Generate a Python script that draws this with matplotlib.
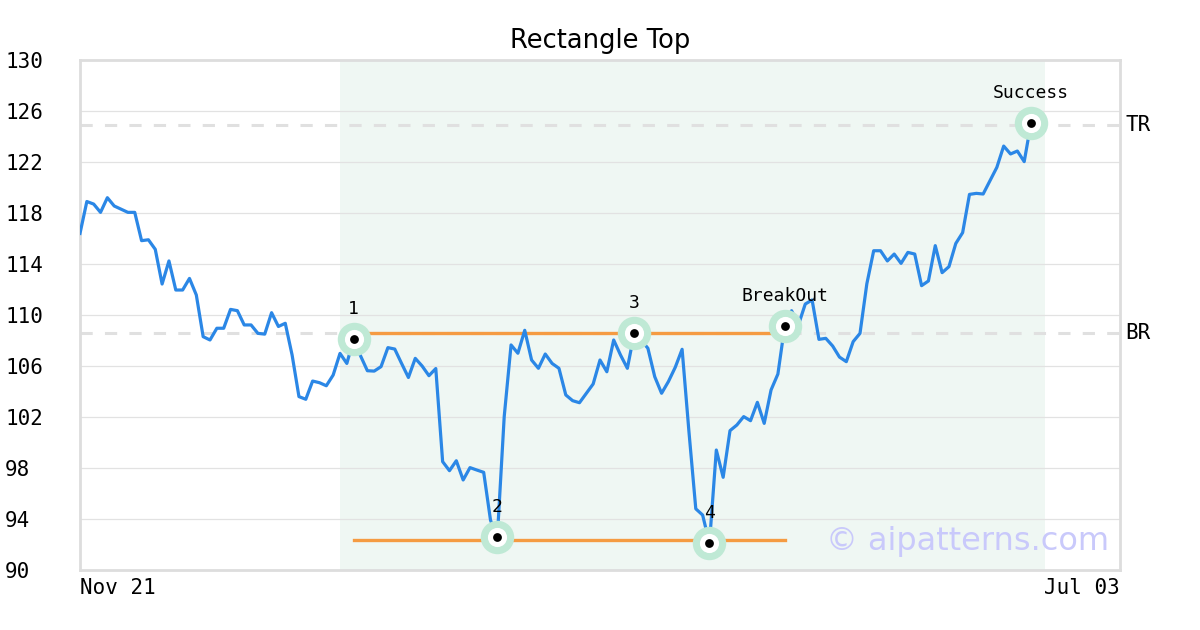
import numpy as np
import matplotlib
matplotlib.use("Agg")
import matplotlib.pyplot as plt

# price series (one value per trading day)
prices = [116.4, 118.9, 118.7, 118.05, 119.2, 118.55, 118.3, 118.05, 118.05, 115.83,
          115.9, 115.15, 112.43, 114.24, 111.96, 111.96, 112.87, 111.57, 108.3, 108.04,
          108.96, 108.96, 110.44, 110.34, 109.22, 109.22, 108.56, 108.5, 110.18, 109.1,
          109.35, 106.86, 103.6, 103.39, 104.82, 104.69, 104.45, 105.29, 106.99, 106.2,
          108.12, 106.8, 105.63, 105.6, 105.95, 107.44, 107.33, 106.2, 105.1, 106.6,
          106.0, 105.24, 105.8, 98.5, 97.79, 98.57, 97.06, 98.03, 97.84, 97.66,
          93.9, 92.61, 102.03, 107.65, 107.0, 108.8, 106.47, 105.82, 106.94, 106.2,
          105.82, 103.73, 103.28, 103.12, 103.86, 104.59, 106.47, 105.55, 108.04, 106.86,
          105.82, 108.56, 108.04, 107.39, 105.16, 103.86, 104.78, 105.9, 107.31, 100.85,
          94.8, 94.31, 92.09, 99.41, 97.27, 100.93, 101.37, 102.03, 101.71, 103.15,
          101.5, 104.12, 105.37, 109.14, 110.34, 109.22, 110.86, 111.18, 108.09, 108.17,
          107.57, 106.7, 106.34, 107.91, 108.56, 112.45, 115.04, 115.04, 114.24, 114.78,
          114.05, 114.91, 114.78, 112.3, 112.67, 115.44, 113.32, 113.79, 115.61, 116.46,
          119.46, 119.54, 119.49, 120.53, 121.58, 123.25, 122.63, 122.86, 122.03, 125.08,
          125.03, 125.03]

# pattern points
point_idx = [40, 61, 81, 92, 103, 139]
point_labels = ["1", "2", "3", "4", "BreakOut", "Success"]

top_level = 108.6      # BR
bottom_level = 92.35
target_level = 124.9   # TR
rect_start, rect_end = 40, 103
shade_start, shade_end = 38, 141

x_ticks = [0, 152]
x_ticklabels = ["Nov 21", "Jul 03"]
y_ticks = list(range(90, 131, 4))

mono = "DejaVu Sans Mono"
x = np.arange(len(prices))
y = np.array(prices)

fig = plt.figure(figsize=(12, 6.3), dpi=100)
ax = fig.add_axes([80 / 1200, 1 - 570 / 630, 1040 / 1200, 510 / 630])

ax.axvspan(shade_start, shade_end, color="#eff7f3", zorder=0, lw=0)

for v in y_ticks:
    ax.axhline(v, color="#e2e2e2", lw=0.9, zorder=1)

ax.axhline(top_level, color="#e0e0e0", lw=2.2, ls=(0, (4, 4)), zorder=1)
ax.axhline(target_level, color="#e0e0e0", lw=2.2, ls=(0, (4, 4)), zorder=1)

ax.plot([rect_start, rect_end], [top_level, top_level], color="#f59b42", lw=2.4, zorder=2)
ax.plot([rect_start, rect_end], [bottom_level, bottom_level], color="#f59b42", lw=2.4, zorder=2)

ax.plot(x, y, color="#2b87e6", lw=2.3, zorder=3)

px = x[point_idx]
py = y[point_idx]
ax.scatter(px, py, s=580, color="#bfe9d5", zorder=4, lw=0)
ax.scatter(px, py, s=190, color="white", zorder=5, lw=0)
ax.scatter(px, py, s=40, color="black", zorder=6, lw=0)
for xi, yi, lab in zip(px, py, point_labels):
    ax.annotate(lab, (xi, yi), xytext=(0, 30), textcoords="offset pixels",
                ha="center", va="center", fontsize=13, family=mono, zorder=7)

ax.text(1.005, target_level, "TR", transform=ax.get_yaxis_transform(),
        ha="left", va="center", fontsize=15, family=mono)
ax.text(1.005, top_level, "BR", transform=ax.get_yaxis_transform(),
        ha="left", va="center", fontsize=15, family=mono)

ax.text(0.99, 0.055, "\u00a9 aipatterns.com", transform=ax.transAxes,
        ha="right", va="center", fontsize=23, color="#c9c9fb", zorder=8)

ax.set_xlim(0, 152)
ax.set_ylim(90, 130)
ax.set_yticks(y_ticks)
ax.set_yticklabels([str(v) for v in y_ticks], family=mono, fontsize=15, ha="left")
ax.tick_params(axis="y", length=0, pad=54)
ax.set_xticks(x_ticks)
ax.set_xticklabels(x_ticklabels, family=mono, fontsize=15)
ax.tick_params(axis="x", length=0, pad=6)
labs = ax.get_xticklabels()
labs[0].set_ha("left")
labs[1].set_ha("right")

for s in ax.spines.values():
    s.set_color("#dddddd")
    s.set_linewidth(2)

ax.set_title("Rectangle Top", fontsize=18.5, pad=9)

fig.savefig("out.png", dpi=100)
